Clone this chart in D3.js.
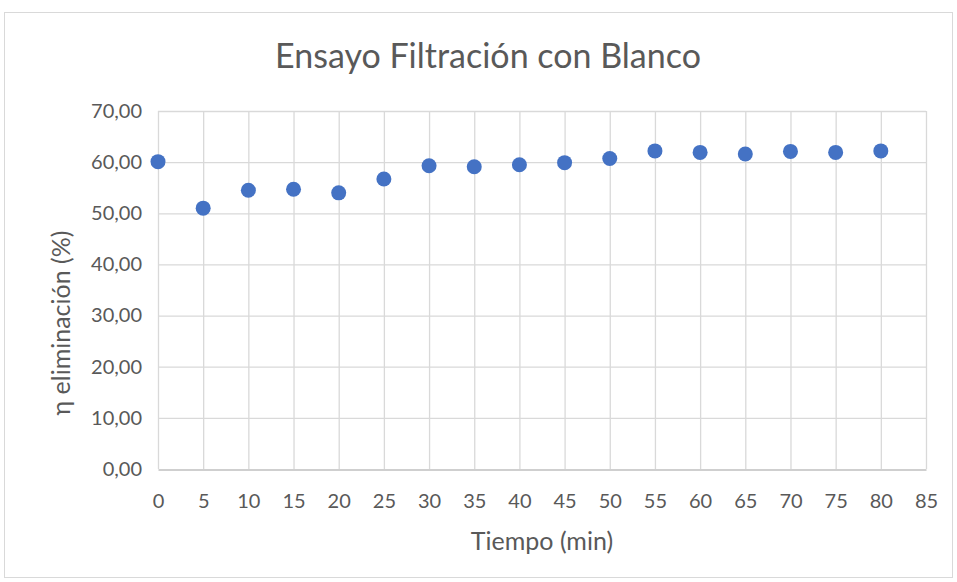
<!DOCTYPE html>
<html>
<head>
<meta charset="utf-8">
<script src="https://cdn.jsdelivr.net/npm/d3@7"></script>
<style>
  body { margin: 0; background: #fff; }
  text { font-family: Lato, "Open Sans", sans-serif; fill: #595959; }
</style>
</head>
<body>
<svg width="957" height="582"></svg>
<script>
// data
const tiempo = [0, 5, 10, 15, 20, 25, 30, 35, 40, 45, 50, 55, 60, 65, 70, 75, 80];
const eliminacion = [60.1, 51.0, 54.5, 54.7, 54.0, 56.7, 59.3, 59.1, 59.5, 59.9, 60.7, 62.2, 61.9, 61.6, 62.1, 61.9, 62.2];
const xTicks = d3.range(0, 90, 5);
const yTicks = d3.range(0, 80, 10);

const points = tiempo.map(function (t, i) {
  return { x: t, y: eliminacion[i] };
});

const svg = d3.select("svg");

// chart frame
svg.append("rect")
  .attr("x", 4.5).attr("y", 12.5)
  .attr("width", 948).attr("height", 565)
  .attr("fill", "#fff")
  .attr("stroke", "#d9d9d9");

const plotLeft = 158, plotRight = 926, plotTop = 111, plotBottom = 469;

const xScale = d3.scaleLinear().domain([0, 85]).range([plotLeft, plotRight]);
const yScale = d3.scaleLinear().domain([0, 70]).range([plotBottom, plotTop]);

// horizontal gridlines
svg.append("g")
  .selectAll("line")
  .data(yTicks.filter(function (d) { return d > 0; }))
  .enter()
  .append("line")
  .attr("x1", plotLeft).attr("x2", plotRight)
  .attr("y1", function (d) { return yScale(d) + 0.5; })
  .attr("y2", function (d) { return yScale(d) + 0.5; })
  .attr("stroke", "#d9d9d9")
  .attr("stroke-width", 1.3);

// vertical gridlines
svg.append("g")
  .selectAll("line")
  .data(xTicks)
  .enter()
  .append("line")
  .attr("x1", function (d) { return xScale(d) + 0.5; })
  .attr("x2", function (d) { return xScale(d) + 0.5; })
  .attr("y1", plotTop).attr("y2", plotBottom)
  .attr("stroke", "#d9d9d9")
  .attr("stroke-width", 1.3);

// bottom axis
const xAxis = d3.axisBottom(xScale).tickValues(xTicks).tickSize(0).tickPadding(24);
const gx = svg.append("g").attr("transform", "translate(0," + (plotBottom + 0.5) + ")").call(xAxis);
gx.select(".domain").attr("stroke", "#bfbfbf").attr("stroke-width", 1.3);
gx.selectAll("text").attr("font-size", 20).style("font-family", "Lato, sans-serif").attr("fill", "#595959");

// left axis labels
const yAxis = d3.axisLeft(yScale).tickValues(yTicks).tickSize(0).tickPadding(16)
  .tickFormat(function (d) { return d3.format(".2f")(d).replace(".", ","); });
const gy = svg.append("g").attr("transform", "translate(" + plotLeft + ",0)").call(yAxis);
gy.select(".domain").remove();
gy.selectAll("text").attr("font-size", 20).style("font-family", "Lato, sans-serif").attr("fill", "#595959");

// points
svg.append("g")
  .selectAll("circle")
  .data(points)
  .enter()
  .append("circle")
  .attr("cx", function (d) { return xScale(d.x); })
  .attr("cy", function (d) { return yScale(d.y); })
  .attr("r", 7.5)
  .attr("fill", "#4472c4");

// titles
svg.append("text")
  .attr("x", 488).attr("y", 68)
  .attr("text-anchor", "middle")
  .attr("font-size", 34)
  .text("Ensayo Filtración con Blanco");

svg.append("text")
  .attr("x", 542).attr("y", 550)
  .attr("text-anchor", "middle")
  .attr("font-size", 25)
  .text("Tiempo (min)");

svg.append("text")
  .attr("transform", "translate(70,323) rotate(-90)")
  .attr("text-anchor", "middle")
  .attr("font-size", 25)
  .text("η eliminación (%)");
</script>
</body>
</html>
